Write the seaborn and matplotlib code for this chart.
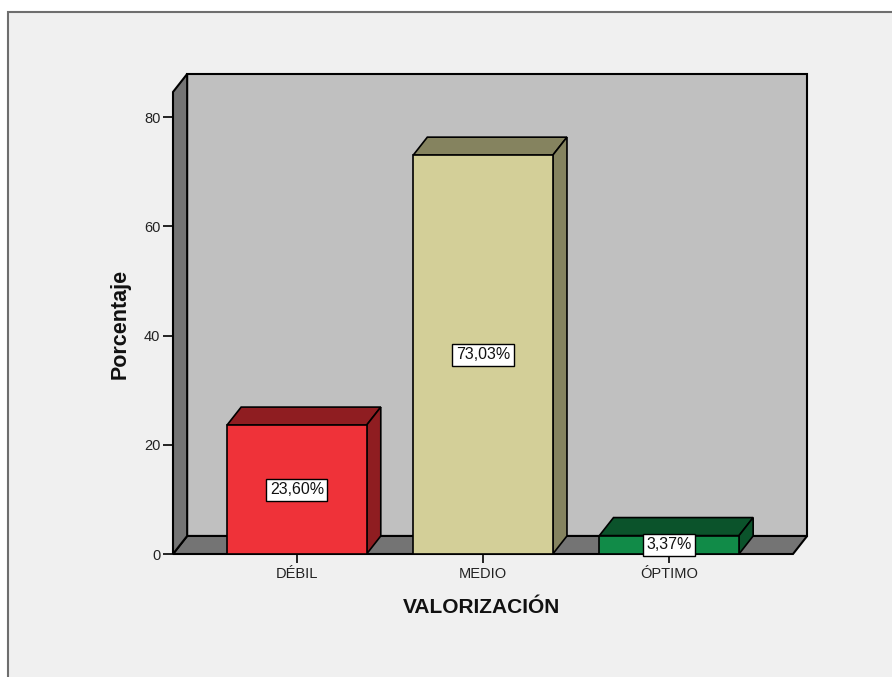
import matplotlib
matplotlib.use("Agg")
import matplotlib.pyplot as plt
import seaborn as sns
import pandas as pd
from matplotlib.patches import Polygon, Rectangle

# Datos del gráfico
categorias = ["DÉBIL", "MEDIO", "ÓPTIMO"]
porcentajes = [23.60, 73.03, 3.37]
etiquetas = ["23,60%", "73,03%", "3,37%"]
colores_frente = ["#ef3239", "#d3cf98", "#118b48"]
colores_oscuros = ["#8f1d21", "#85835f", "#0b532b"]
ticks_y = [0, 20, 40, 60, 80]

sns.set_theme(style="white")
plt.rcParams['font.family'] = ['Liberation Sans', 'DejaVu Sans']

df = pd.DataFrame({"categoria": categorias, "porcentaje": porcentajes})

fig = plt.figure(figsize=(8.92, 6.77), dpi=100, facecolor="white")
# Marco gris del gráfico (estilo SPSS)
fig.patches.append(Rectangle((8 / 892, -0.05), 1.1, (677 - 12) / 677 + 0.05,
                             transform=fig.transFigure, facecolor="#f0f0f0",
                             edgecolor="#6e6e6e", lw=1.5, zorder=-10))

ax = fig.add_axes([173 / 892, 123 / 677, 620 / 892, 462 / 677])
ax.patch.set_alpha(0)

sns.barplot(data=df, x="categoria", y="porcentaje", hue="categoria",
            palette=colores_frente, saturation=1, width=0.75,
            edgecolor="black", linewidth=1.2, legend=False, ax=ax)
barras = list(ax.patches)

xmin, xmax = -0.665, 2.665
ymax = 84.6
ax.set_xlim(xmin, xmax)
ax.set_ylim(0, ymax)

# Profundidad 3D (en unidades de datos)
dx, dy = 0.076, 3.3

# Pared del fondo, suelo y pared lateral
ax.add_patch(Rectangle((xmin + dx, dy), xmax - xmin, ymax, facecolor="#c0c0c0",
                       edgecolor="black", lw=1.5, zorder=0.5, clip_on=False))
ax.add_patch(Polygon([(xmin, 0), (xmax, 0), (xmax + dx, dy), (xmin + dx, dy)],
                     closed=True, facecolor="#747474", edgecolor="black", lw=1.5,
                     zorder=0.6, clip_on=False))
ax.add_patch(Polygon([(xmin, 0), (xmin + dx, dy), (xmin + dx, ymax + dy), (xmin, ymax)],
                     closed=True, facecolor="#747474", edgecolor="black", lw=1.5,
                     zorder=0.6, clip_on=False))

# Caras superior y lateral de cada barra
for p, oscuro in zip(barras, colores_oscuros):
    x0, w, h = p.get_x(), p.get_width(), p.get_height()
    ax.add_patch(Polygon([(x0, h), (x0 + w, h), (x0 + w + dx, h + dy), (x0 + dx, h + dy)],
                         closed=True, facecolor=oscuro, edgecolor="black", lw=1.2,
                         zorder=1.9, clip_on=False))
    ax.add_patch(Polygon([(x0 + w, 0), (x0 + w + dx, dy), (x0 + w + dx, h + dy), (x0 + w, h)],
                         closed=True, facecolor=oscuro, edgecolor="black", lw=1.2,
                         zorder=1.9, clip_on=False))
    p.set_zorder(2)

# Etiquetas de porcentaje
for i, (v, et) in enumerate(zip(porcentajes, etiquetas)):
    ax.text(i, v / 2, et, ha="center", va="center", fontsize=11.5, zorder=5,
            color="#111111",
            bbox=dict(boxstyle="square,pad=0.22", fc="white", ec="black", lw=1))

for s in ax.spines.values():
    s.set_visible(False)
ax.set_yticks(ticks_y)
ax.tick_params(axis="y", left=True, direction="out", length=7, width=1.2,
               color="black", pad=2, labelsize=10.5, labelcolor="#222222")
ax.tick_params(axis="x", bottom=True, direction="out", length=6.5, width=1.2,
               color="black", pad=3, labelsize=10.5, labelcolor="#222222")
ax.set_xlabel("")
ax.set_ylabel("")

ax.text(0.498, -0.115, "VALORIZACIÓN", transform=ax.transAxes, ha="center",
        va="center", fontsize=15, fontweight="bold", color="#111111")
ax.text(-0.085, 0.498, "Porcentaje", transform=ax.transAxes, ha="center",
        va="center", rotation=90, fontsize=15.5, fontweight="bold", color="#111111")

fig.savefig("out.png", dpi=100, facecolor=fig.get_facecolor())
plt.close()
